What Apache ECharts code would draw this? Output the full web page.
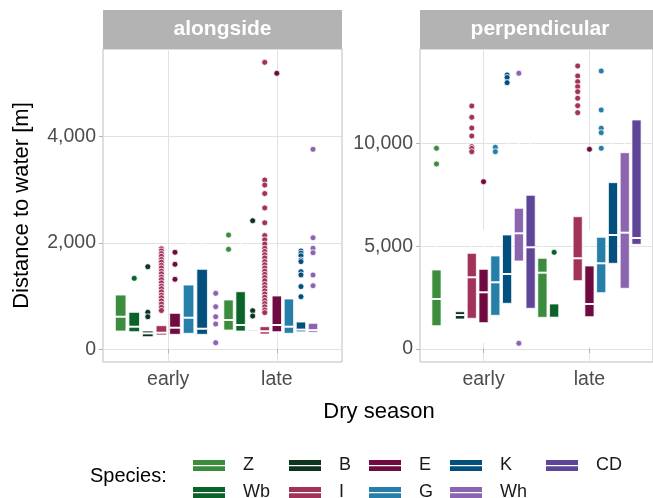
<!DOCTYPE html>
<html><head><meta charset="utf-8">
<script src="https://cdn.jsdelivr.net/npm/echarts@6/dist/echarts.min.js"></script>
<style>html,body{margin:0;padding:0;background:#fff}#c{width:653px;height:498px}</style>
</head><body><div id="c"></div>
<script>
const species = ['Z','Wb','B','I','E','G','K','Wh','CD'];
const speciesColors = ['#3b8c3c','#0b6329','#0d3421','#a1325a','#6f0b40','#267fa9','#03507f','#8b65af','#5e4597'];
const seasons = ['early','late'];
const facets = ['alongside','perpendicular'];
const alongsideTicks = [0, 2000, 4000];
const perpendicularTicks = [0, 5000, 10000];

// dodge slot of each species within a season group (null = absent)
const alongsideEarlySlots = [0,1,2,3,4,5,6,7,null];
const alongsideLateSlots = [0,1,2,3,4,5,6,7,8];
const perpendicularEarlySlots = [0,1,2,3,4,5,6,7,8];
const perpendicularLateSlots = [0,1,2,3,4,5,6,7,8];

// [lower whisker, Q1, median, Q3, upper whisker]
const alongsideEarlyBoxes = [
  [20,344,613,1021,1750],[30,331,425,696,1200],[180,237,300,344,500],[100,269,312,444,700],
  [50,282,406,677,1250],[20,301,594,1209,2300],[20,282,387,1505,2600],null,null];
const alongsideEarlyOutliers = [
  [],[1335],[1554,696,613],
  [1890,1850,1800,1750,1690,1640,1580,1530,1470,1420,1360,1310,1250,1190,1140,1080,1020,970,910,850,790,730],
  [1825,1599,1317],[],[],[1053,801,613,476,124],[]];

const alongsideLateBoxes = [
  [30,363,551,927,1700],[30,344,457,1083,2050],[250,325,340,360,500],[100,287,340,425,640],
  [170,331,457,1003,1900],[20,301,425,946,1900],[200,330,370,513,900],[250,320,360,489,750],null];
const alongsideLateOutliers = [
  [2150,1881],[],[2419,726,626],
  [5399,3184,3090,2930,2660,2380,2140,2060,1980,1900,1840,1780,1720,1650,1590,1530,1470,1410,1350,1290,1220,1160,1100,1040,980,920,860,800,740,690],
  [5192],[],[1850,1810,1760,1680,1650,1460,1400,1180,990],[3762,2099,1900,1817,1398,1196],[]];

const perpendicularEarlyBoxes = [
  [600,1133,2431,3841,7500],null,[1400,1459,1650,1813,1900],[500,1493,3486,4653,8800],
  [290,1279,2757,3875,5790],[600,1638,3243,4522,8500],[300,2222,3647,5543,10500],
  [1500,4279,5625,6841,10500],[300,1979,4945,7473,12000]];
const perpendicularEarlyOutliers = [
  [9758,8995],[],[],[11815,11265,10745,10356,9836,9750,9593],[8134],[9807,9593],
  [13322,13200,12948],[13404,277],[]];

const perpendicularLateBoxes = [
  [800,1541,3710,4410,6200],[1300,1493,1520,2188,2900],null,[1500,3321,4410,6432,9500],
  [110,1570,2188,4035,5790],[800,2737,4167,5431,9000],[1500,4167,5543,8086,12000],
  [400,2951,5655,9544,13500],[4000,5090,5397,11134,13500]];
const perpendicularLateOutliers = [
  [],[4701],[],[13759,13273,12996,12753,12510,12189,11829,11489],[9709],
  [13516,11620,10730,10516,9758],[],[],[]];

// ---------- layout / style constants ----------
const FONT = '"Liberation Sans", Arial, Helvetica, sans-serif';
const DODGE = 1.0, BOXW = 0.78;

function renderBox(params, api) {
  const xc = api.value(0), w = api.value(6);
  const pLow = api.coord([xc, api.value(1)]);
  const pQ1 = api.coord([xc - w / 2, api.value(2)]);
  const pMed = api.coord([xc, api.value(3)]);
  const pQ3 = api.coord([xc + w / 2, api.value(4)]);
  const pHigh = api.coord([xc, api.value(5)]);
  const color = api.visual('color');
  return {
    type: 'group',
    children: [
      {type: 'line', shape: {x1: pLow[0], y1: pLow[1], x2: pLow[0], y2: pQ1[1]}, style: {stroke: '#fff', lineWidth: 1}},
      {type: 'line', shape: {x1: pHigh[0], y1: pHigh[1], x2: pHigh[0], y2: pQ3[1]}, style: {stroke: '#fff', lineWidth: 1}},
      {type: 'rect', shape: {x: pQ1[0], y: pQ3[1], width: pQ3[0] - pQ1[0], height: pQ1[1] - pQ3[1]},
        style: {fill: color, stroke: '#fff', lineWidth: 0.8}},
      {type: 'line', shape: {x1: pQ1[0], y1: pMed[1], x2: pQ3[0], y2: pMed[1]}, style: {stroke: '#fff', lineWidth: 2}}
    ]
  };
}

function buildFacet(fi, slotsBySeason, boxesBySeason, outBySeason) {
  const out = [];
  species.forEach((sp, si) => {
    const boxData = [], ptData = [];
    seasons.forEach((se, k) => {
      const slots = slotsBySeason[k];
      const slot = slots[si];
      if (slot === null) return;
      const n = slots.filter(s => s !== null).length;
      const x = (k + 1) + (slot - (n - 1) / 2) / n * DODGE;
      const b = boxesBySeason[k][si];
      if (b) boxData.push([x, b[0], b[1], b[2], b[3], b[4], BOXW / n]);
      outBySeason[k][si].forEach(v => ptData.push([x, v]));
    });
    out.push({
      type: 'custom', name: sp, xAxisIndex: fi, yAxisIndex: fi, clip: true,
      itemStyle: {color: speciesColors[si]}, renderItem: renderBox, data: boxData,
      encode: {x: 0, y: [1, 2, 3, 4, 5]}, z: 2 + si * 0.01
    });
    out.push({
      type: 'scatter', name: sp, xAxisIndex: fi, yAxisIndex: fi, clip: true,
      symbolSize: 6, itemStyle: {color: speciesColors[si], borderColor: '#fff', borderWidth: 0.8, opacity: 1},
      data: ptData, z: 2 + si * 0.01
    });
  });
  return out;
}

const series = [].concat(
  buildFacet(0, [alongsideEarlySlots, alongsideLateSlots], [alongsideEarlyBoxes, alongsideLateBoxes], [alongsideEarlyOutliers, alongsideLateOutliers]),
  buildFacet(1, [perpendicularEarlySlots, perpendicularLateSlots], [perpendicularEarlyBoxes, perpendicularLateBoxes], [perpendicularEarlyOutliers, perpendicularLateOutliers])
);

const fmt = v => Math.round(v).toLocaleString('en-US');
const gridDefs = [
  {left: 103, top: 49, width: 239, height: 313},
  {left: 420, top: 49, width: 240, height: 313}
];
const yRanges = [[-239, 5650], [-632, 14584]];
const yTicks = [alongsideTicks, perpendicularTicks];

const xAxis = gridDefs.map((g, i) => ({
  type: 'value', gridIndex: i, min: 0.4, max: 2.6,
  axisLine: {show: false},
  axisTick: {show: true, customValues: [1, 2], length: 4, lineStyle: {color: '#b3b3b3', width: 1}},
  axisLabel: {customValues: [1, 2], formatter: v => seasons[Math.round(v) - 1], margin: 8,
    fontSize: 19.5, color: '#4d4d4d', fontFamily: FONT},
  splitLine: {show: true, lineStyle: {color: '#e2e2e2', width: 1}}
}));
const yAxis = gridDefs.map((g, i) => ({
  type: 'value', gridIndex: i, min: yRanges[i][0], max: yRanges[i][1],
  axisLine: {show: false},
  axisTick: {show: true, customValues: yTicks[i], length: 4, lineStyle: {color: '#b3b3b3', width: 1}},
  axisLabel: {customValues: yTicks[i], formatter: fmt, margin: 7,
    fontSize: 19.5, color: '#4d4d4d', fontFamily: FONT},
  splitLine: {show: true, lineStyle: {color: '#e2e2e2', width: 1}}
}));

const keyLefts = [193, 289, 369, 450, 546];
const rowCenters = [462, 489];
const KEY_ICON = 'path://M0,0H32V5H0Z M0,6.3H32V11H0Z';
const legend = species.map((sp, i) => ({
  show: true, selectedMode: false, padding: 0,
  left: keyLefts[Math.floor(i / 2)], top: rowCenters[i % 2] - 5.5,
  itemWidth: 32, itemHeight: 11, icon: KEY_ICON, data: [sp],
  textStyle: {fontSize: 18, fontFamily: FONT, color: '#1a1a1a', padding: [0, 0, 0, 13]}
}));

const graphic = [];
gridDefs.forEach((g, i) => {
  graphic.push({type: 'rect', shape: {x: g.left, y: 10, width: g.width, height: 39}, style: {fill: '#b3b3b3'}, silent: true});
  graphic.push({type: 'text', x: g.left + g.width / 2 - (i === 1 ? 0 : 0), y: 29.5,
    style: {text: facets[i], fill: '#fff', font: 'bold 21px ' + FONT, align: 'center', verticalAlign: 'middle'}, silent: true});
});
graphic.push({type: 'text', x: 22, y: 205.5, rotation: Math.PI / 2,
  style: {text: 'Distance to water [m]', fill: '#000', font: '22px ' + FONT, align: 'center', verticalAlign: 'middle'}});
graphic.push({type: 'text', x: 379, y: 412,
  style: {text: 'Dry season', fill: '#000', font: '22px ' + FONT, align: 'center', verticalAlign: 'middle'}});
graphic.push({type: 'text', x: 90, y: 476,
  style: {text: 'Species:', fill: '#000', font: '20px ' + FONT, align: 'left', verticalAlign: 'middle'}});

const chart = echarts.init(document.getElementById('c'), null, {renderer: 'canvas'});
chart.setOption({
  animation: false,
  backgroundColor: '#fff',
  grid: gridDefs.map(g => Object.assign({show: true, borderColor: '#bdbdbd', borderWidth: 1, backgroundColor: 'transparent'}, g)),
  xAxis, yAxis, legend, graphic, series
});
</script></body></html>
